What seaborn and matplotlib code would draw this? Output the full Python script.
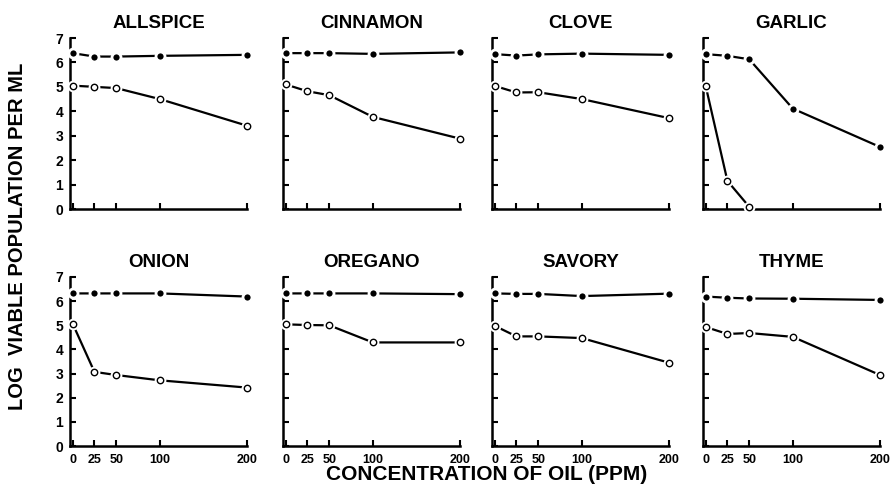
import matplotlib
matplotlib.use("Agg")
import matplotlib.pyplot as plt
import seaborn as sns
import pandas as pd

sns.set_theme(style="ticks")
plt.rcParams['font.family'] = ['Liberation Sans', 'DejaVu Sans']
plt.rcParams['text.color'] = 'black'
plt.rcParams['xtick.color'] = 'black'
plt.rcParams['ytick.color'] = 'black'
plt.rcParams['axes.labelcolor'] = 'black'

conc = [0, 25, 50, 100, 200]
tick_labels = ["0", "25", "50", "100", "200"]
spices = ["ALLSPICE", "CINNAMON", "CLOVE", "GARLIC",
          "ONION", "OREGANO", "SAVORY", "THYME"]

allspice_filled = [6.38, 6.24, 6.24, 6.27, 6.31]
allspice_open = [5.05, 5.00, 4.95, 4.50, 3.41]
cinnamon_filled = [6.38, 6.38, 6.38, 6.35, 6.41]
cinnamon_open = [5.10, 4.82, 4.66, 3.77, 2.88]
clove_filled = [6.34, 6.28, 6.33, 6.36, 6.31]
clove_open = [5.04, 4.77, 4.78, 4.50, 3.72]
garlic_filled = [6.34, 6.27, 6.13, 4.11, 2.54]
garlic_open = [5.05, 1.15, 0.09]
onion_filled = [6.32, 6.32, 6.32, 6.32, 6.19]
onion_open = [5.07, 3.07, 2.94, 2.72, 2.42]
oregano_filled = [6.32, 6.32, 6.32, 6.32, 6.29]
oregano_open = [5.04, 5.01, 5.00, 4.29, 4.29]
savory_filled = [6.32, 6.30, 6.30, 6.21, 6.31]
savory_open = [4.98, 4.54, 4.54, 4.47, 3.45]
thyme_filled = [6.19, 6.14, 6.11, 6.10, 6.05]
thyme_open = [4.93, 4.64, 4.68, 4.52, 2.94]

filled = [allspice_filled, cinnamon_filled, clove_filled, garlic_filled,
          onion_filled, oregano_filled, savory_filled, thyme_filled]
opened = [allspice_open, cinnamon_open, clove_open, garlic_open,
          onion_open, oregano_open, savory_open, thyme_open]

W, H = 896, 504
fig = plt.figure(figsize=(W / 100, H / 100), dpi=100)

col_left = [70, 283, 492, 703]
ax_w = 177
row_top = [38, 277]
row_bot = [209, 446]

for i, name in enumerate(spices):
    r, c = divmod(i, 4)
    ax = fig.add_axes([col_left[c] / W, 1 - row_bot[r] / H, ax_w / W,
                       (row_bot[r] - row_top[r]) / H])
    f = filled[i]
    o = opened[i]
    df_f = pd.DataFrame({"x": conc[:len(f)], "y": f})
    df_o = pd.DataFrame({"x": conc[:len(o)], "y": o})
    # lines
    sns.lineplot(data=df_f, x="x", y="y", ax=ax, color="black", lw=1.6,
                 clip_on=False, zorder=2)
    sns.lineplot(data=df_o, x="x", y="y", ax=ax, color="black", lw=1.6,
                 clip_on=False, zorder=2)
    # filled markers with white halo
    sns.lineplot(data=df_f, x="x", y="y", ax=ax, linestyle="none",
                 marker="o", markersize=6.5, markerfacecolor="black",
                 markeredgecolor="white", markeredgewidth=2.0,
                 clip_on=False, zorder=4)
    # open markers: white halo then open circle
    sns.lineplot(data=df_o, x="x", y="y", ax=ax, linestyle="none",
                 marker="o", markersize=8.5, markerfacecolor="white",
                 markeredgecolor="white", markeredgewidth=0,
                 clip_on=False, zorder=3)
    sns.lineplot(data=df_o, x="x", y="y", ax=ax, linestyle="none",
                 marker="o", markersize=4.6, markerfacecolor="white",
                 markeredgecolor="black", markeredgewidth=1.0,
                 clip_on=False, zorder=5)

    ax.set_xlim(-3, 200)
    ax.set_ylim(0, 7)
    for s in ["top", "right"]:
        ax.spines[s].set_visible(False)
    for s in ["left", "bottom"]:
        ax.spines[s].set_linewidth(1.8)
        ax.spines[s].set_color("black")
    ax.set_xticks(conc)
    ax.set_yticks(range(8))
    ax.tick_params(axis="both", direction="in", length=4.5, width=1.5,
                   color="black", bottom=True, left=True, top=False,
                   right=False)
    ax.tick_params(axis="x", labelsize=9, pad=6)
    ax.tick_params(axis="y", labelsize=10, pad=5)
    if r == 1:
        ax.set_xticklabels(tick_labels, fontweight="bold")
    else:
        ax.set_xticklabels([])
    if c == 0:
        ax.set_yticklabels([str(v) for v in range(8)], fontweight="bold")
    else:
        ax.set_yticklabels([])
    ax.set_xlabel("")
    ax.set_ylabel("")
    ax.set_title(name, fontsize=13.5, fontweight="bold", pad=7,
                 color="black")
    ax.grid(False)
    ax.set_facecolor("white")

fig.text(18 / W, 1 - 236 / H, "LOG  VIABLE POPULATION PER ML", rotation=90,
         ha="center", va="center", fontsize=14.5, fontweight="bold")
fig.text(487 / W, 1 - 475 / H, "CONCENTRATION OF OIL (PPM)",
         ha="center", va="center", fontsize=15, fontweight="bold")

fig.savefig("out.png", dpi=100, facecolor="white")
